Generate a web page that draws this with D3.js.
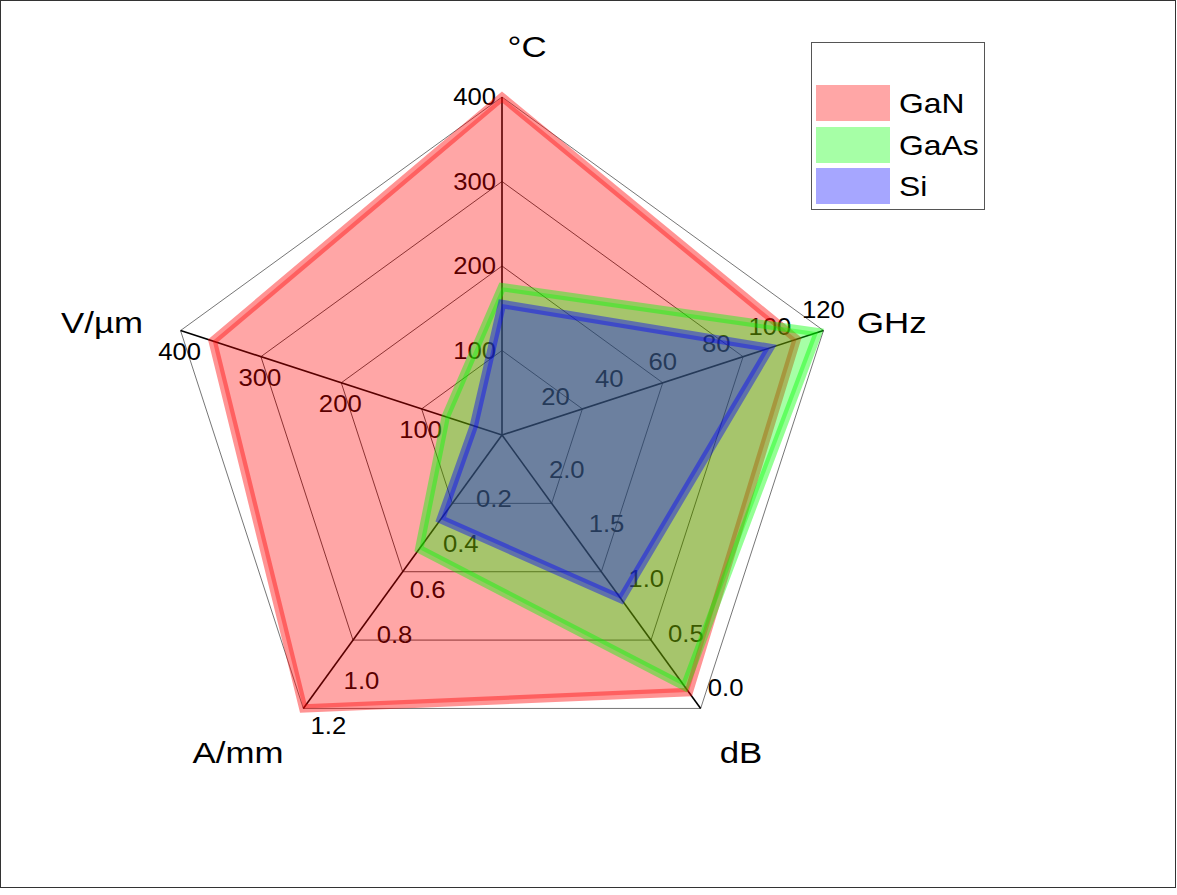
<!DOCTYPE html>
<html>
<head>
<meta charset="utf-8">
<script src="https://cdn.jsdelivr.net/npm/d3@7"></script>
<style>
  html, body { margin: 0; padding: 0; background: #fff; }
  svg { display: block; font-family: "Liberation Sans", Arial, sans-serif; }
</style>
</head>
<body>
<svg id="chart" width="1177" height="895"></svg>
<script>
// Axis names (clockwise from the top)
const categories = ["°C", "GHz", "dB", "A/mm", "V/µm"];

// Axis domains: value at the centre, value at the rim
const tempDomain = [0, 400];
const freqDomain = [0, 120];
const noiseDomain = [2.5, 0.0];
const currentDomain = [0, 1.2];
const fieldDomain = [0, 400];

// Tick labels per axis
const tempTicks = [100, 200, 300, 400];
const freqTicks = [20, 40, 60, 80, 100, 120];
const noiseTicks = [2.0, 1.5, 1.0, 0.5, 0.0];
const currentTicks = [0.2, 0.4, 0.6, 0.8, 1.0, 1.2];
const fieldTicks = [100, 200, 300, 400];

// Series values, in category order
const seriesNames = ["GaN", "GaAs", "Si"];
const ganValues = [400, 110, 0.15, 1.2, 360];
const gaasValues = [175, 118, 0.2, 0.5, 70];
const siValues = [155, 100, 1.0, 0.37, 35];

// Grid rings, as fractions of the radius
const gridLevels = [0.25, 0.5, 0.75, 1.0];

const svg = d3.select("#chart");
const cx = 502, cy = 435, R = 338;

// page frame
svg.append("rect")
  .attr("x", 0.5).attr("y", 0.5)
  .attr("width", 1175).attr("height", 887)
  .attr("fill", "#fff").attr("stroke", "#333").attr("stroke-width", 1);

const domains = [tempDomain, freqDomain, noiseDomain, currentDomain, fieldDomain];
const tickSets = [tempTicks, freqTicks, noiseTicks, currentTicks, fieldTicks];
const scales = domains.map(d => d3.scaleLinear().domain(d).range([0, R]));
const angle = i => (-90 + 72 * i) * Math.PI / 180;
const pt = (i, r) => [cx + r * Math.cos(angle(i)), cy + r * Math.sin(angle(i))];

// text with a slightly widened face
function label(parent, x, y, str, size, anchor, sx) {
  return parent.append("text")
    .attr("transform", `translate(${x},${y}) scale(${sx},1)`)
    .attr("text-anchor", anchor)
    .attr("font-size", size)
    .attr("fill", "#000")
    .text(str);
}

const g = svg.append("g");

// grid rings
gridLevels.forEach(f => {
  const ring = d3.range(5).map(i => pt(i, f * R));
  g.append("path")
    .attr("d", d3.line()(ring) + "Z")
    .attr("fill", "none")
    .attr("stroke", f === 1 ? "#666" : "#3a3a3a")
    .attr("stroke-width", 0.9);
});

// spokes
categories.forEach((c, i) => {
  const [x, y] = pt(i, R);
  g.append("line")
    .attr("x1", cx).attr("y1", cy).attr("x2", x).attr("y2", y)
    .attr("stroke", "#000").attr("stroke-width", 1.6);
});

// tick label placement for each axis: offset from the tick point
const tickPlacement = [
  { dx: -6, dy: 8, anchor: "end" },      // °C
  { dx: 0, dy: -13, anchor: "middle" },  // GHz
  { dx: 25, dy: -12, anchor: "middle" }, // dB
  { dx: 25, dy: 26, anchor: "middle" },  // A/mm
  { dx: -1, dy: 29, anchor: "middle" }   // V/µm
];
const fmt = [d3.format("d"), d3.format("d"), d3.format(".1f"), d3.format(".1f"), d3.format("d")];

tickSets.forEach((ticks, i) => {
  const p = tickPlacement[i];
  ticks.forEach(t => {
    const [x, y] = pt(i, scales[i](t));
    label(g, x + p.dx, y + p.dy, fmt[i](t), 24, p.anchor, 1.07);
  });
});

// axis titles
const titlePlacement = [
  { x: 527, y: 57, anchor: "middle" },
  { x: 857, y: 333, anchor: "start" },
  { x: 741, y: 763, anchor: "middle" },
  { x: 238, y: 763, anchor: "middle" },
  { x: 102, y: 333, anchor: "middle" }
];
categories.forEach((c, i) => {
  const p = titlePlacement[i];
  label(g, p.x, p.y, c, 29, p.anchor, 1.2);
});

// series polygons
const seriesValues = [ganValues, gaasValues, siValues];
const colors = ["#ff0000", "#00ff00", "#0000ff"];
const radarLine = d3.lineRadial()
  .angle((d, i) => angle(i) + Math.PI / 2)
  .radius((d, i) => scales[i](d))
  .curve(d3.curveLinearClosed);

seriesValues.forEach((vals, s) => {
  g.append("path")
    .attr("transform", `translate(${cx},${cy})`)
    .attr("d", radarLine(vals))
    .attr("fill", colors[s]).attr("fill-opacity", 0.35)
    .attr("stroke", colors[s]).attr("stroke-opacity", 0.42)
    .attr("stroke-width", 8.5)
    .attr("stroke-linejoin", "miter");
});

// legend
const lg = svg.append("g");
lg.append("rect")
  .attr("x", 811.5).attr("y", 42.5).attr("width", 173).attr("height", 167)
  .attr("fill", "#fff").attr("stroke", "#555").attr("stroke-width", 1);
const swY = [85, 127, 168];
seriesNames.forEach((n, s) => {
  lg.append("rect")
    .attr("x", 816).attr("y", swY[s]).attr("width", 74).attr("height", 36)
    .attr("fill", colors[s]).attr("fill-opacity", 0.35);
  label(lg, 899, swY[s] + 28, n, 27, "start", 1.18);
});
</script>
</body>
</html>
